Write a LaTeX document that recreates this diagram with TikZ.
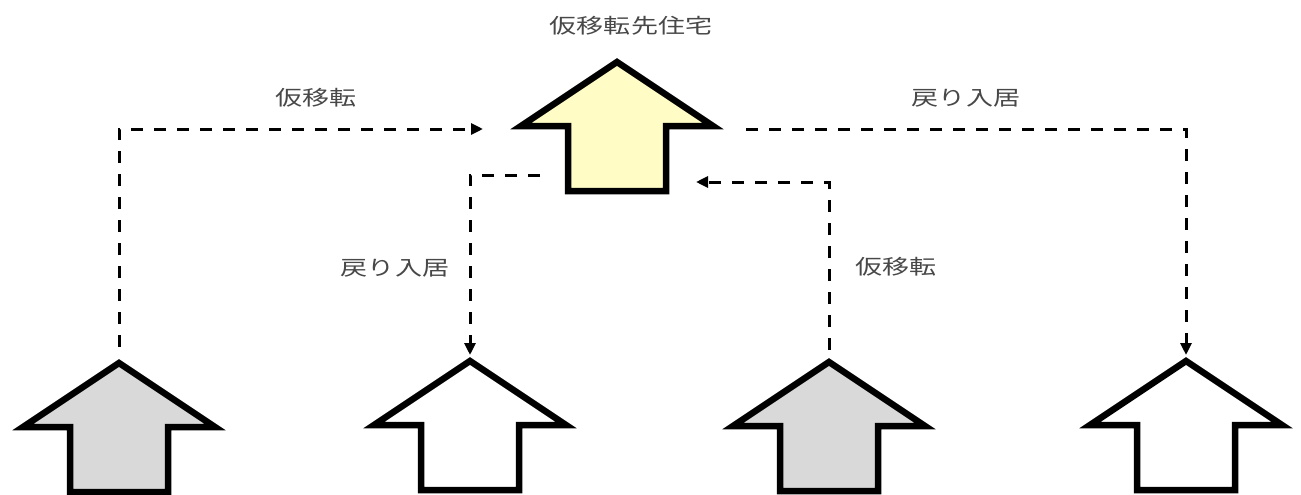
\documentclass[tikz,border=0pt]{standalone}
\usepackage{fontspec}
\newfontfamily\jpfont[FakeStretch=1.32]{Noto Sans CJK JP}
\usetikzlibrary{arrows.meta,calc}
\definecolor{housegray}{HTML}{D9D9D9}
\definecolor{houseyellow}{HTML}{FFFCC6}
\definecolor{labelgray}{HTML}{484848}
\tikzset{
  house/.pic={
    \path[pic actions] (0,0) coordinate (-apex) -- (96,64) coordinate (-er)
      -- (49,64) -- (49,129) coordinate (-br) -- (-49,129) coordinate (-bl)
      -- (-49,64) -- (-96,64) coordinate (-el) -- cycle;
  },
  housestyle/.style={draw=black, line width=6.5pt, line join=miter, miter limit=10},
  move/.style={draw=black, line width=3pt, dash pattern=on 12pt off 11pt,
    -{Triangle[length=12pt,width=11pt]}},
  lbl/.style={text=labelgray, font=\jpfont\fontsize{20.5}{24}\selectfont, inner sep=0pt},
}
\begin{document}
\begin{tikzpicture}[x=1pt,y=-1pt]
\useasboundingbox (0,0) rectangle (1301,495);
% houses
\pic[housestyle, fill=houseyellow] (top) at (617,62) {house};
\pic[housestyle, fill=housegray] (h1) at (119,363) {house};
\pic[housestyle, fill=white] (h2) at (470,361) {house};
\pic[housestyle, fill=housegray] (h3) at (829,362) {house};
\pic[housestyle, fill=white] (h4) at (1186,361) {house};
% labels
\node[lbl] (ttop) at (631,26) {仮移転先住宅};
\node[lbl] (t1) at (316,98) {仮移転};
\node[lbl] (t2) at (966,98) {戻り入居};
\node[lbl] (t3) at (395,268) {戻り入居};
\node[lbl] (t4) at (896,267) {仮移転};
% connector end coordinates
\coordinate (c1e) at ($(top-el)+(-38,3)$);
\coordinate (c2s) at ($(top-er)+(33,3)$);
\coordinate (c3s) at ($(top-apex)+(-77,113)$);
\coordinate (c4e) at ($(top-apex)+(79,120)$);
% connectors
\draw[move] ($(h1-apex)+(0,-16)$) |- (c1e);
\draw[move, shorten >=6pt] (c2s) -| (h4-apex);
\draw[move, shorten >=6pt] (c3s) -| (h2-apex);
\draw[move] ($(h3-apex)+(0,-12)$) |- (c4e);
\end{tikzpicture}
\end{document}
